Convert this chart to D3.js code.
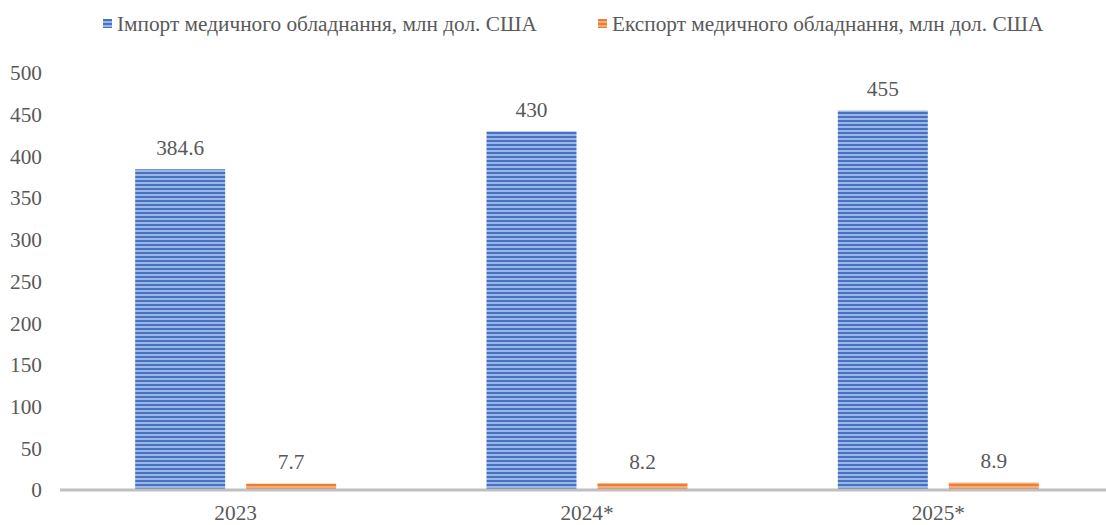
<!DOCTYPE html>
<html>
<head>
<meta charset="utf-8">
<script src="https://cdn.jsdelivr.net/npm/d3@7"></script>
<style>
  html, body { margin: 0; padding: 0; background: #ffffff; }
  svg { display: block; }
</style>
</head>
<body>
<svg id="chart" width="1106" height="525"></svg>
<script>
// Medical equipment trade, USD million
const years = ["2023", "2024*", "2025*"];
const importValues = [384.6, 430, 455];
const exportValues = [7.7, 8.2, 8.9];
const seriesNames = ["Імпорт медичного обладнання, млн дол. США", "Експорт медичного обладнання, млн дол. США"];
const yTicks = [0, 50, 100, 150, 200, 250, 300, 350, 400, 450, 500];

const FONT = "Liberation Serif";
const TEXT = "#595959";
const FS = 21.3;

const svg = d3.select("#chart").attr("font-family", FONT);
const W = 1106, H = 525;
const margin = { left: 60, right: -8, top: 73, bottom: 35 };

const x = d3.scaleBand().domain(years).range([margin.left, W - margin.right]).paddingInner(0).paddingOuter(0);
const y = d3.scaleLinear().domain([0, 500]).range([H - margin.bottom, margin.top]);

// striped fills
const defs = svg.append("defs");
function stripes(id, dark, light) {
  const p = defs.append("pattern").attr("id", id).attr("patternUnits", "userSpaceOnUse")
    .attr("width", 8).attr("height", 4);
  p.append("rect").attr("width", 8).attr("height", 4).attr("fill", light);
  p.append("rect").attr("width", 8).attr("height", 2).attr("fill", dark);
}
stripes("stImp", "#4472C4", "#9db5e3");
stripes("stExp", "#ED7D31", "#f5ad7c");

const series = [
  { name: seriesNames[0], values: importValues, fill: "url(#stImp)", fmt: d => String(d) },
  { name: seriesNames[1], values: exportValues, fill: "url(#stExp)", fmt: d => d.toFixed(1) }
];

const barW = 90, gap = 21;
const inner = d3.scaleBand().domain([0, 1]).range([0, 2 * barW + gap]).paddingInner(gap / (barW + gap)).paddingOuter(0);

// y-axis labels
const yAxis = d3.axisLeft(y).tickValues(yTicks).tickSize(0).tickPadding(0);
const gy = svg.append("g").attr("transform", `translate(${42},0)`).call(yAxis)
  .attr("font-family", FONT).attr("font-size", FS);
gy.select(".domain").remove();
gy.selectAll("text").attr("fill", TEXT);

// bars and value labels
series.forEach((s, i) => {
  const g = svg.append("g");
  years.forEach((yr, j) => {
    const cx = x(yr) + x.bandwidth() / 2 - (2 * barW + gap) / 2 + inner(i);
    g.append("rect")
      .attr("x", cx).attr("width", inner.bandwidth())
      .attr("y", y(s.values[j])).attr("height", y(0) - y(s.values[j]))
      .attr("fill", s.fill);
    svg.append("text")
      .attr("x", cx + inner.bandwidth() / 2)
      .attr("y", y(s.values[j]) - 22)
      .attr("dy", "0.35em")
      .attr("text-anchor", "middle")
      .attr("font-family", FONT).attr("font-size", FS).attr("fill", TEXT)
      .text(s.fmt(s.values[j]));
  });
});

// baseline
svg.append("line").attr("x1", margin.left).attr("x2", W).attr("y1", y(0)).attr("y2", y(0))
  .attr("stroke", "#bfbfbf").attr("stroke-width", 3);

// x-axis labels
const xAxis = d3.axisBottom(x).tickSize(0).tickPadding(0);
const gx = svg.append("g").attr("transform", `translate(0,${y(0) + 23})`).call(xAxis)
  .attr("font-family", FONT).attr("font-size", FS);
gx.select(".domain").remove();
gx.selectAll("text").attr("fill", TEXT).attr("dy", "0.35em");

// legend
const legendX = [103, 598];
series.forEach((s, i) => {
  const lg = svg.append("g").attr("transform", `translate(${legendX[i]},19)`);
  lg.append("rect").attr("width", 9).attr("height", 9).attr("fill", s.fill);
  lg.append("text").attr("x", 14).attr("y", 5).attr("dy", "0.35em")
    .attr("font-family", FONT).attr("font-size", FS).attr("fill", TEXT).text(s.name);
});
</script>
</body>
</html>
